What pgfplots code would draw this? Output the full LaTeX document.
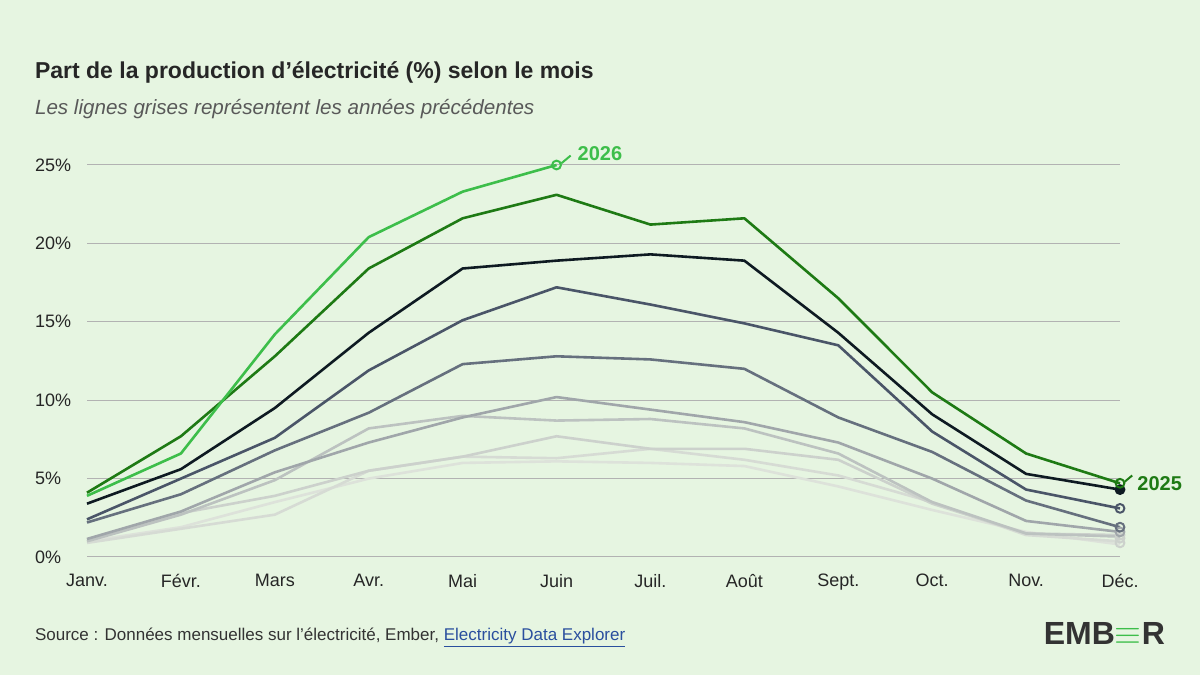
\documentclass[border=0pt]{standalone}
\usepackage{pgfplots}
\pgfplotsset{compat=1.18}
\usepackage{fontspec}
\setmainfont{Liberation Sans}
\definecolor{bg}{HTML}{E6F5E1}
\definecolor{c26}{HTML}{3DBE4A}
\definecolor{c25}{HTML}{1E7A14}
\definecolor{c24}{HTML}{0E1A22}
\definecolor{c23}{HTML}{4A5568}
\definecolor{c22}{HTML}{66707E}
\definecolor{c21}{HTML}{A0A6AA}
\definecolor{c20}{HTML}{BCC2C0}
\definecolor{c19}{HTML}{CCD1CC}
\definecolor{c18}{HTML}{D6DBD4}
\definecolor{c17}{HTML}{DDE2DA}
\definecolor{link}{HTML}{2A4F9E}
\begin{document}
\begin{tikzpicture}
\fill[bg] (0pt,0pt) rectangle (600pt,337.5pt);
\node[anchor=west,font=\fontsize{11.5}{13}\selectfont\bfseries,text=black!85] at (14pt,301.5pt) {Part de la production d’électricité (\%) selon le mois};
\node[anchor=west,font=\fontsize{10.3}{12}\selectfont\itshape,text=black!65] at (14pt,283pt) {Les lignes grises représentent les années précédentes};
\node[anchor=west,font=\fontsize{8.5}{10}\selectfont,text=black!80] at (14pt,18.5pt) {Source : Données mensuelles sur l’électricité, Ember, \textcolor{link}{\underline{Electricity Data Explorer}}};
\node[anchor=east,font=\fontsize{16}{18}\selectfont\bfseries,text=black!80] at (586pt,21pt) {EMB{\color{c26}$\equiv$}R};
\begin{axis}[at={(43.5pt,59pt)},anchor=origin,scale only axis,width=516.5pt,height=196pt,
 xmin=0,xmax=11,ymin=0,ymax=25,axis line style={draw=none},
 xtick={0,...,11},xticklabels={Janv.,Févr.,Mars,Avr.,Mai,Juin,Juil.,Août,Sept.,Oct.,Nov.,Déc.},
 ytick={0,5,10,15,20,25},yticklabels={0\%,5\%,10\%,15\%,20\%,25\%},
 ymajorgrids,grid style={gray!60,line width=0.5pt},
 major tick length=0pt,xtick style={draw=none},
 tick label style={font=\fontsize{9}{10}\selectfont,text=black!85},
 xticklabel style={yshift=-5pt},yticklabel style={anchor=west,xshift=-29.5pt},
 clip=false,line join=round]
\pgfplotsset{every axis plot/.append style={line width=1.3pt,mark=none}}
\addplot[c17] coordinates {(0,1.0)(1,1.9)(2,3.5)(3,5.0)(4,6.0)(5,6.1)(6,6.0)(7,5.8)(8,4.5)(9,3.0)(10,1.6)(11,0.8)};
\addplot[c18] coordinates {(0,0.9)(1,1.8)(2,2.7)(3,5.5)(4,6.4)(5,6.3)(6,6.9)(7,6.2)(8,5.2)(9,3.5)(10,1.4)(11,1.0)};
\addplot[c19] coordinates {(0,1.1)(1,2.8)(2,3.9)(3,5.5)(4,6.4)(5,7.7)(6,6.9)(7,6.9)(8,6.2)(9,3.4)(10,1.5)(11,1.4)};
\addplot[c20] coordinates {(0,1.0)(1,2.7)(2,4.9)(3,8.2)(4,9.0)(5,8.7)(6,8.8)(7,8.2)(8,6.6)(9,3.5)(10,1.5)(11,1.3)};
\addplot[c21] coordinates {(0,1.15)(1,2.9)(2,5.4)(3,7.3)(4,8.9)(5,10.2)(6,9.4)(7,8.6)(8,7.3)(9,5.0)(10,2.3)(11,1.6)};
\addplot[c22] coordinates {(0,2.2)(1,4.0)(2,6.8)(3,9.2)(4,12.3)(5,12.8)(6,12.6)(7,12.0)(8,8.9)(9,6.7)(10,3.6)(11,1.9)};
\addplot[c23] coordinates {(0,2.4)(1,5.0)(2,7.6)(3,11.9)(4,15.1)(5,17.2)(6,16.1)(7,14.9)(8,13.5)(9,8.0)(10,4.3)(11,3.1)};
\addplot[c24] coordinates {(0,3.4)(1,5.6)(2,9.5)(3,14.3)(4,18.4)(5,18.9)(6,19.3)(7,18.9)(8,14.3)(9,9.1)(10,5.3)(11,4.3)};
\addplot[c25] coordinates {(0,4.1)(1,7.7)(2,12.8)(3,18.4)(4,21.6)(5,23.1)(6,21.2)(7,21.6)(8,16.5)(9,10.5)(10,6.6)(11,4.7)};
\addplot[c26] coordinates {(0,3.9)(1,6.6)(2,14.2)(3,20.4)(4,23.3)(5,25.0)};
\addplot[c19,only marks,mark=o,mark size=2.2pt,line width=1pt,mark options={fill=bg}] coordinates {(11,0.9)(11,1.2)(11,1.4)};
\addplot[c21,only marks,mark=o,mark size=2.2pt,line width=1pt,mark options={fill=bg}] coordinates {(11,1.6)};
\addplot[c22,only marks,mark=o,mark size=2.2pt,line width=1pt,mark options={fill=bg}] coordinates {(11,1.9)};
\addplot[c23,only marks,mark=o,mark size=2.2pt,line width=1pt,mark options={fill=bg}] coordinates {(11,3.1)};
\addplot[c24,only marks,mark=*,mark size=2.2pt,line width=1pt] coordinates {(11,4.3)};
\addplot[c25,only marks,mark=o,mark size=2.2pt,line width=1pt,mark options={fill=bg}] coordinates {(11,4.7)};
\addplot[c26,only marks,mark=o,mark size=2.2pt,line width=1pt,mark options={fill=bg}] coordinates {(5,25.0)};
\draw[c26,line width=1pt] (axis cs:5.05,25.1) -- (axis cs:5.15,25.6);
\node[anchor=west,text=c26,font=\fontsize{10}{11}\selectfont\bfseries] at (axis cs:5.15,25.7) {2026};
\draw[c25,line width=1pt] (axis cs:11.05,4.8) -- (axis cs:11.13,5.2);
\node[anchor=west,text=c25,font=\fontsize{10}{11}\selectfont\bfseries] at (axis cs:11.11,4.7) {2025};
\end{axis}
\end{tikzpicture}
\end{document}
